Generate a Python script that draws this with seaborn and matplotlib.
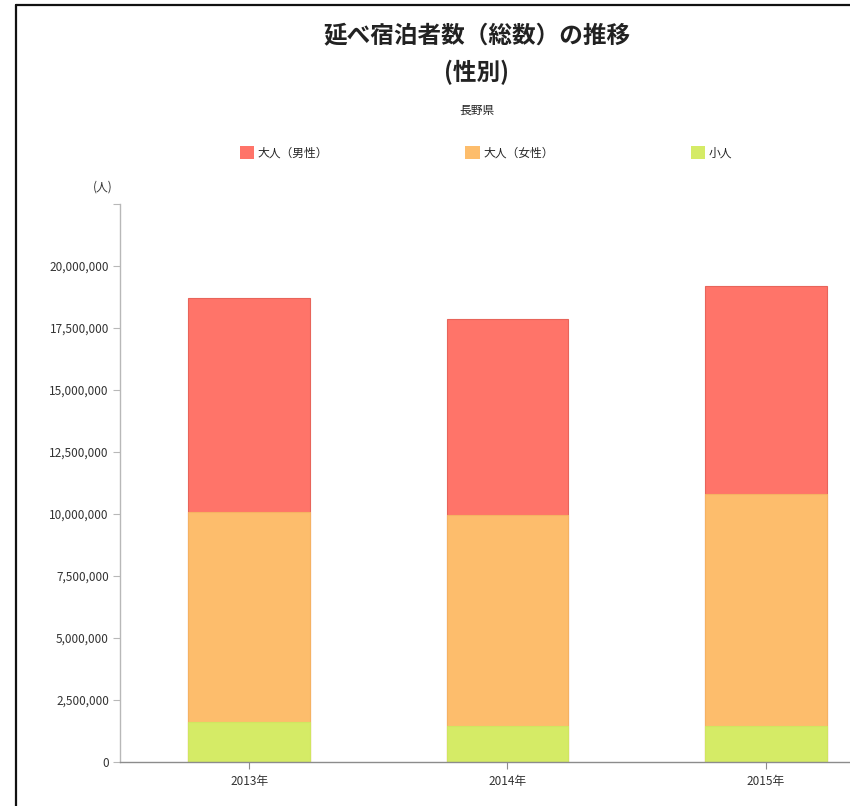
import matplotlib
matplotlib.use("Agg")
import matplotlib.pyplot as plt
from matplotlib.lines import Line2D
from matplotlib.patches import Patch
from matplotlib.ticker import FuncFormatter
import seaborn as sns
import pandas as pd

# Overnight guests in Nagano prefecture, by category (persons)
years = ["2013年", "2014年", "2015年"]
adult_male = [8640000, 7890000, 8380000]
adult_female = [8460000, 8510000, 9360000]
children = [1610000, 1460000, 1460000]

series_names = ["大人（男性）", "大人（女性）", "小人"]
colors = ["#FF7469", "#FDBD6C", "#D5EB66"]
edge_colors = ["#E8645A", "#F5B262", "#D0E660"]

y_ticks = [0, 2500000, 5000000, 7500000, 10000000, 12500000,
           15000000, 17500000, 20000000, 22500000]

sns.set_theme(style="white")
plt.rcParams["font.family"] = ["Noto Sans CJK JP", "DejaVu Sans"]

W, H = 850, 806
fig = plt.figure(figsize=(W / 100, H / 100), dpi=100)

df = pd.DataFrame({"year": years, "male": adult_male,
                   "female": adult_female, "child": children})
df["lvl_child"] = df["child"]
df["lvl_female"] = df["child"] + df["female"]
df["lvl_male"] = df["lvl_female"] + df["male"]

ax_left, ax_right = 120, 850
ax_top, ax_bottom = 204, 762
ax = fig.add_axes([ax_left / W, 1 - ax_bottom / H,
                   (ax_right - ax_left) / W, (ax_bottom - ax_top) / H])

# Stacked bars drawn as overlapping cumulative totals, tallest first
for col, c, ec in zip(["lvl_male", "lvl_female", "lvl_child"], colors, edge_colors):
    sns.barplot(data=df, x="year", y=col, color=c, width=0.472,
                edgecolor=ec, linewidth=0.8, saturation=1, ax=ax)

ax.set_xlim(-0.5, 2.5 - 45 / 258.5)
ax.set_ylim(0, 22500000)
ax.set_yticks(y_ticks)
ax.yaxis.set_major_formatter(FuncFormatter(
    lambda v, p: "" if v >= 22500000 else f"{int(v):,}"))
ax.set_xlabel("")
ax.set_ylabel("")

for s in ["top", "right"]:
    ax.spines[s].set_visible(False)
ax.spines["left"].set_color("#b8b8b8")
ax.spines["left"].set_linewidth(1.0)
ax.spines["bottom"].set_color("#8c8c8c")
ax.spines["bottom"].set_linewidth(1.0)

ax.tick_params(axis="y", left=True, length=5, width=0.8, color="#b8b8b8",
               labelsize=8.5, labelcolor="#333333", pad=3)
ax.tick_params(axis="x", bottom=True, length=5, width=0.8, color="#8c8c8c",
               labelsize=8.5, labelcolor="#333333", pad=4)
ax.grid(False)

# Titles
fig.text(477 / W, 1 - 35 / H, "延べ宿泊者数（総数）の推移", ha="center", va="center",
         fontsize=17, fontweight="bold", color="#222222")
fig.text(477 / W, 1 - 72 / H, "(性別)", ha="center", va="center",
         fontsize=17, fontweight="bold", color="#222222")
fig.text(477 / W, 1 - 110 / H, "長野県", ha="center", va="center",
         fontsize=8.5, color="#222222")

# Unit label
fig.text(103 / W, 1 - 187 / H, "(人)", ha="center", va="center",
         fontsize=8.5, color="#333333")

# Legend
handles = [Patch(facecolor=c, edgecolor="none", label=n)
           for c, n in zip(colors, series_names)]
fig.legend(handles=handles, loc="center", ncol=3,
           bbox_to_anchor=(486 / W, 1 - 153 / H), frameon=False,
           fontsize=8.5, handlelength=1.2, handleheight=1.2,
           handletextpad=0.3, columnspacing=11.6)

# Frame lines at top and left
fig.add_artist(Line2D([16 / W, 16 / W], [0, 1 - 5 / H], color="#111111",
                      linewidth=1.6, transform=fig.transFigure))
fig.add_artist(Line2D([16 / W, 1], [1 - 5 / H, 1 - 5 / H], color="#111111",
                      linewidth=1.6, transform=fig.transFigure))

fig.savefig("out.png", dpi=100)
